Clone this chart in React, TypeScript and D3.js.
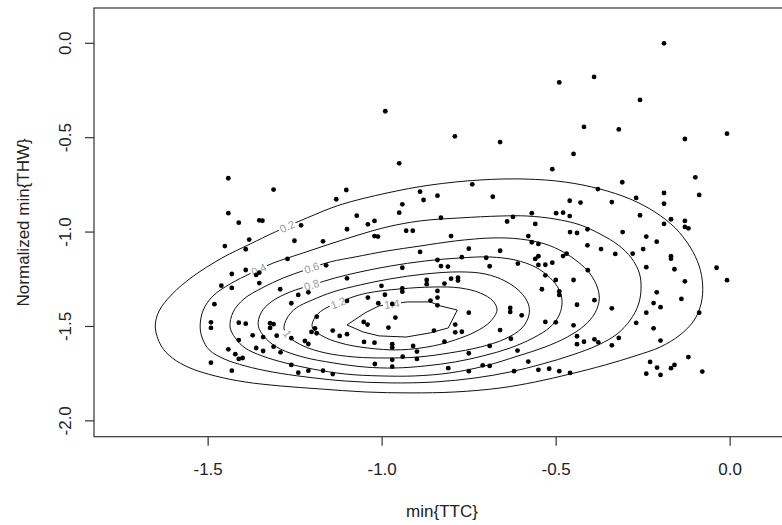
import React, { useEffect, useRef } from 'react';
import * as d3 from 'd3';

// min{TTC} of each event (x)
const ttc = [
  -0.991, -0.791, -0.661, -0.951, -0.190, -0.491, -0.391, -0.259, -0.420, -0.320,
  -0.130, -0.009, -0.450, -0.511, -0.100, -0.310, -0.089, -0.380, -0.190, -0.461,
  -0.430, -0.340, -0.270, -0.190, -0.570, -0.500, -0.480, -0.461, -0.560, -0.259,
  -0.170, -0.130, -0.190, -0.130, -0.120, -0.460, -0.440, -0.410, -0.309, -0.241,
  -0.580, -0.570, -0.551, -0.410, -0.371, -0.330, -0.280, -0.250, -0.211, -0.170,
  -0.170, -0.470, -0.480, -0.551, -0.560, -0.551, -0.531, -0.511, -0.241, -0.160,
  -0.039, -0.009, -0.130, -0.531, -0.501, -0.450, -0.409, -0.541, -0.491, -0.491,
  -0.211, -0.140, -0.440, -0.390, -0.220, -0.200, -0.340, -0.241, -0.089, -0.599,
  -0.531, -0.501, -0.450, -0.270, -0.220, -0.440, -0.440, -0.420, -0.390, -0.379,
  -0.320, -0.340, -0.200, -0.580, -0.551, -0.520, -0.491, -0.460, -0.230, -0.120,
  -0.210, -0.241, -0.200, -0.170, -0.160, -0.080, -0.741, -0.682, -0.641, -0.624,
  -0.751, -0.661, -0.771, -0.701, -0.610, -0.691, -0.751, -0.632, -0.632, -0.771,
  -0.661, -0.630, -0.751, -0.691, -0.611, -0.711, -0.691, -0.751, -0.621, -1.103,
  -1.132, -0.891, -0.841, -0.881, -0.942, -0.951, -1.073, -1.041, -1.022, -1.101,
  -1.022, -1.012, -0.931, -0.912, -0.831, -0.802, -1.170, -0.891, -0.841, -0.831,
  -0.811, -1.161, -0.942, -1.101, -0.872, -0.872, -0.802, -0.782, -0.782, -0.821,
  -1.002, -0.942, -0.942, -0.841, -0.992, -0.861, -0.841, -0.841, -1.041, -1.101,
  -0.971, -1.011, -0.962, -1.053, -1.042, -0.982, -1.142, -1.122, -1.101, -0.851,
  -0.790, -0.790, -1.052, -1.022, -0.971, -0.971, -0.911, -0.900, -0.821, -0.941,
  -0.971, -0.900, -1.021, -0.971, -0.810, -1.170, -1.142, -1.442, -1.312, -1.442,
  -1.412, -1.353, -1.344, -1.233, -1.382, -1.452, -1.392, -1.252, -1.272, -1.432,
  -1.392, -1.353, -1.362, -1.462, -1.432, -1.353, -1.293, -1.482, -1.241, -1.212,
  -1.261, -1.492, -1.492, -1.412, -1.392, -1.322, -1.312, -1.322, -1.372, -1.342,
  -1.303, -1.412, -1.188, -1.193, -1.203, -1.188, -1.261, -1.222, -1.212, -1.362,
  -1.342, -1.312, -1.292, -1.442, -1.422, -1.412, -1.401, -1.492, -1.432, -1.261,
  -1.241, -1.212,
];

// normalized min{THW} of each event (y)
const thw = [
  -0.360, -0.493, -0.523, -0.636, 0.000, -0.207, -0.178, -0.300, -0.443, -0.456,
  -0.507, -0.479, -0.586, -0.667, -0.710, -0.736, -0.803, -0.772, -0.793, -0.834,
  -0.844, -0.841, -0.819, -0.850, -0.900, -0.900, -0.897, -0.915, -0.957, -0.911,
  -0.932, -0.941, -0.957, -0.973, -0.980, -1.000, -1.005, -0.985, -1.000, -1.024,
  -1.021, -1.054, -1.063, -1.070, -1.090, -1.116, -1.114, -1.090, -1.051, -1.128,
  -1.141, -1.114, -1.127, -1.128, -1.142, -1.174, -1.173, -1.162, -1.186, -1.197,
  -1.189, -1.255, -1.261, -1.229, -1.254, -1.254, -1.202, -1.303, -1.314, -1.333,
  -1.319, -1.354, -1.385, -1.361, -1.376, -1.398, -1.404, -1.427, -1.427, -1.441,
  -1.476, -1.478, -1.494, -1.481, -1.510, -1.552, -1.594, -1.581, -1.568, -1.584,
  -1.561, -1.600, -1.575, -1.686, -1.730, -1.724, -1.737, -1.746, -1.688, -1.662,
  -1.718, -1.750, -1.757, -1.721, -1.704, -1.739, -0.747, -0.813, -0.944, -0.920,
  -1.088, -1.099, -1.133, -1.136, -1.167, -1.181, -1.427, -1.402, -1.423, -1.528,
  -1.519, -1.565, -1.642, -1.603, -1.628, -1.706, -1.709, -1.737, -1.737, -0.777,
  -0.826, -0.786, -0.807, -0.830, -0.853, -0.897, -0.913, -0.959, -0.941, -0.985,
  -1.021, -1.024, -0.993, -0.993, -0.924, -1.021, -1.049, -1.105, -1.148, -1.180,
  -1.183, -1.176, -1.189, -1.245, -1.254, -1.276, -1.247, -1.242, -1.257, -1.273,
  -1.285, -1.298, -1.316, -1.312, -1.332, -1.363, -1.347, -1.388, -1.347, -1.365,
  -1.381, -1.377, -1.453, -1.476, -1.490, -1.506, -1.522, -1.550, -1.541, -1.522,
  -1.531, -1.490, -1.582, -1.586, -1.594, -1.612, -1.603, -1.633, -1.581, -1.660,
  -1.677, -1.672, -1.699, -1.713, -1.721, -1.734, -1.752, -0.715, -0.775, -0.900,
  -0.950, -0.938, -0.940, -0.964, -1.040, -1.074, -1.091, -1.046, -1.142, -1.222,
  -1.201, -1.215, -1.227, -1.284, -1.296, -1.270, -1.303, -1.382, -1.333, -1.319,
  -1.377, -1.478, -1.508, -1.480, -1.485, -1.483, -1.488, -1.508, -1.547, -1.556,
  -1.549, -1.572, -1.448, -1.510, -1.529, -1.536, -1.562, -1.577, -1.593, -1.614,
  -1.630, -1.607, -1.637, -1.621, -1.647, -1.672, -1.667, -1.692, -1.734, -1.704,
  -1.745, -1.734,
];

// density contour rings, [min{TTC}, min{THW}]
const contour02 = [
  [-1.652, -1.503], [-1.641, -1.418], [-1.603, -1.328], [-1.546, -1.238], [-1.460, -1.137],
  [-1.379, -1.063], [-1.307, -0.999], [-1.216, -0.925], [-1.121, -0.856], [-0.986, -0.793],
  [-0.862, -0.751], [-0.718, -0.724], [-0.589, -0.719], [-0.474, -0.735], [-0.374, -0.772],
  [-0.287, -0.825], [-0.216, -0.894], [-0.158, -0.978], [-0.115, -1.079], [-0.089, -1.180],
  [-0.079, -1.280], [-0.083, -1.376], [-0.103, -1.466], [-0.144, -1.545], [-0.201, -1.609],
  [-0.273, -1.656], [-0.359, -1.704], [-0.460, -1.752], [-0.560, -1.794], [-0.661, -1.826],
  [-0.790, -1.847], [-0.920, -1.852], [-1.049, -1.847], [-1.178, -1.831], [-1.293, -1.815],
  [-1.394, -1.794], [-1.480, -1.762], [-1.552, -1.720], [-1.603, -1.667], [-1.635, -1.603],
];
const contour04 = [
  [-1.523, -1.497], [-1.514, -1.413], [-1.486, -1.338], [-1.437, -1.275], [-1.376, -1.217],
  [-1.313, -1.164], [-1.236, -1.116], [-1.158, -1.068], [-1.078, -1.021], [-0.986, -0.973],
  [-0.891, -0.941], [-0.776, -0.925], [-0.661, -0.915], [-0.583, -0.915], [-0.503, -0.931],
  [-0.431, -0.962], [-0.374, -1.010], [-0.322, -1.068], [-0.284, -1.137], [-0.261, -1.217],
  [-0.256, -1.301], [-0.264, -1.386], [-0.287, -1.466], [-0.325, -1.540], [-0.379, -1.598],
  [-0.454, -1.651], [-0.540, -1.699], [-0.632, -1.741], [-0.733, -1.773], [-0.848, -1.794],
  [-0.977, -1.799], [-1.106, -1.789], [-1.221, -1.767], [-1.316, -1.741], [-1.394, -1.709],
  [-1.454, -1.672], [-1.497, -1.624], [-1.517, -1.561],
];
const contour06 = [
  [-1.437, -1.503], [-1.428, -1.423], [-1.397, -1.354], [-1.345, -1.296], [-1.284, -1.243],
  [-1.221, -1.201], [-1.149, -1.158], [-1.078, -1.132], [-0.986, -1.100], [-0.891, -1.074],
  [-0.790, -1.047], [-0.681, -1.031], [-0.603, -1.037], [-0.532, -1.063], [-0.480, -1.105],
  [-0.437, -1.158], [-0.402, -1.222], [-0.382, -1.291], [-0.376, -1.354], [-0.388, -1.428],
  [-0.420, -1.497], [-0.468, -1.556], [-0.532, -1.609], [-0.609, -1.656], [-0.704, -1.709],
  [-0.805, -1.746], [-0.905, -1.762], [-1.006, -1.762], [-1.106, -1.752], [-1.201, -1.725],
  [-1.279, -1.693], [-1.345, -1.656], [-1.394, -1.614], [-1.422, -1.561],
];
const contour08 = [
  [-1.356, -1.497], [-1.348, -1.428], [-1.319, -1.370], [-1.264, -1.317], [-1.201, -1.280],
  [-1.135, -1.243], [-1.063, -1.211], [-0.977, -1.180], [-0.876, -1.153], [-0.776, -1.137],
  [-0.690, -1.132], [-0.618, -1.148], [-0.560, -1.185], [-0.517, -1.243], [-0.491, -1.307],
  [-0.483, -1.370], [-0.491, -1.439], [-0.517, -1.503], [-0.566, -1.561], [-0.632, -1.614],
  [-0.710, -1.656], [-0.790, -1.688], [-0.876, -1.709], [-0.963, -1.720], [-1.049, -1.715],
  [-1.141, -1.693], [-1.227, -1.662], [-1.293, -1.619], [-1.333, -1.566],
];
const contour10 = [
  [-1.282, -1.513], [-1.273, -1.455], [-1.247, -1.402], [-1.201, -1.360], [-1.141, -1.317],
  [-1.063, -1.280], [-0.977, -1.248], [-0.876, -1.222], [-0.776, -1.211], [-0.704, -1.222],
  [-0.647, -1.259], [-0.603, -1.317], [-0.580, -1.381], [-0.578, -1.439], [-0.598, -1.508],
  [-0.647, -1.566], [-0.718, -1.609], [-0.805, -1.640], [-0.897, -1.662], [-0.991, -1.667],
  [-1.078, -1.662], [-1.164, -1.640], [-1.227, -1.603], [-1.264, -1.561],
];
const contour12 = [
  [-1.201, -1.503], [-1.190, -1.444], [-1.161, -1.402], [-1.126, -1.376], [-1.092, -1.349],
  [-1.043, -1.323], [-0.948, -1.301], [-0.853, -1.291], [-0.776, -1.296], [-0.718, -1.323],
  [-0.681, -1.366], [-0.670, -1.413], [-0.690, -1.476], [-0.733, -1.529], [-0.790, -1.571],
  [-0.853, -1.603], [-0.948, -1.624], [-1.043, -1.614], [-1.121, -1.587], [-1.172, -1.550],
];
const contour14 = [
  [-1.101, -1.492], [-1.049, -1.428], [-1.009, -1.391], [-0.928, -1.370], [-0.862, -1.370],
  [-0.833, -1.391], [-0.784, -1.413], [-0.810, -1.508], [-0.862, -1.534], [-0.931, -1.556],
  [-1.009, -1.550], [-1.055, -1.529],
];

const contourRings = [contour02, contour04, contour06, contour08, contour10, contour12, contour14];
const levelLabels = ['0.2', '0.4', '0.6', '0.8', '1', '1.2', '1.4'];
const xTicks = [-1.5, -1.0, -0.5, 0.0];
const yTicks = [0.0, -0.5, -1.0, -1.5, -2.0];

// where each contour label sits (data units)
const labelSpots = [
  [-1.274, -0.966], [-1.356, -1.192], [-1.202, -1.192], [-1.202, -1.285],
  [-1.273, -1.540], [-1.126, -1.377], [-0.972, -1.381],
];

const W = 782;
const H = 525;
const plot = { left: 94, right: 790, top: 8, bottom: 436.7 };
const font = 'Liberation Sans, Arial, Helvetica, sans-serif';

const App: React.FC = () => {
  const svgRef = useRef<SVGSVGElement>(null);

  useEffect(() => {
    if (!svgRef.current) return;
    const svg = d3.select(svgRef.current);
    svg.selectAll('*').remove();

    const x = d3.scaleLinear().domain([-1.828, 0.172]).range([plot.left, plot.right]);
    const y = d3.scaleLinear().domain([-2.084, 0.187]).range([plot.bottom, plot.top]);

    const g = svg.append('g');

    // contour lines
    contourRings.forEach((ring, li) => {
      const line = d3.line<number[]>()
        .x(d => x(d[0]))
        .y(d => y(d[1]))
        .curve(li === contourRings.length - 1 ? d3.curveLinearClosed : d3.curveCatmullRomClosed.alpha(0.5));
      g.append('path')
        .attr('d', line(ring))
        .attr('fill', 'none')
        .attr('stroke', '#111')
        .attr('stroke-width', 1);
    });

    // contour labels, set along the nearest segment
    contourRings.forEach((ring, li) => {
      const pts = ring.map(d => [x(d[0]), y(d[1])]);
      const tx = x(labelSpots[li][0]);
      const ty = y(labelSpots[li][1]);
      let best = { d: Infinity, px: 0, py: 0, ang: 0 };
      for (let k = 0; k < pts.length; k++) {
        const [ax, ay] = pts[k];
        const [bx, by] = pts[(k + 1) % pts.length];
        const dx = bx - ax, dy = by - ay;
        const len2 = dx * dx + dy * dy || 1;
        const t = Math.max(0, Math.min(1, ((tx - ax) * dx + (ty - ay) * dy) / len2));
        const px = ax + t * dx, py = ay + t * dy;
        const d = Math.hypot(px - tx, py - ty);
        if (d < best.d) {
          let ang = (Math.atan2(dy, dx) * 180) / Math.PI;
          if (ang > 90) ang -= 180;
          if (ang < -90) ang += 180;
          best = { d, px, py, ang };
        }
      }
      const lg = g.append('g').attr('transform', `translate(${best.px},${best.py}) rotate(${best.ang})`);
      const rect = lg.append('rect').attr('fill', '#fff');
      const txt = lg.append('text')
        .attr('text-anchor', 'middle')
        .attr('dy', '0.35em')
        .attr('font-family', font)
        .attr('font-size', 11)
        .attr('fill', '#9a9a9a')
        .text(levelLabels[li]);
      const w = (txt.node() as SVGTextElement).getComputedTextLength();
      rect.attr('x', -w / 2 - 1.5).attr('y', -6).attr('width', w + 3).attr('height', 12);
    });

    // points
    g.selectAll('circle.pt')
      .data(ttc)
      .enter()
      .append('circle')
      .attr('class', 'pt')
      .attr('cx', d => x(d))
      .attr('cy', (_, i) => y(thw[i]))
      .attr('r', 2.4)
      .attr('fill', '#000');

    // frame
    svg.append('rect')
      .attr('x', plot.left)
      .attr('y', plot.top)
      .attr('width', plot.right - plot.left)
      .attr('height', plot.bottom - plot.top)
      .attr('fill', 'none')
      .attr('stroke', '#333')
      .attr('stroke-width', 1.2);

    // x axis
    xTicks.forEach(v => {
      svg.append('line')
        .attr('x1', x(v)).attr('x2', x(v))
        .attr('y1', plot.bottom).attr('y2', plot.bottom + 9)
        .attr('stroke', '#333').attr('stroke-width', 1.2);
      svg.append('text')
        .attr('x', x(v)).attr('y', 475)
        .attr('text-anchor', 'middle')
        .attr('font-family', font).attr('font-size', 17).attr('fill', '#222')
        .text(d3.format('.1f')(v).replace('−', '-'));
    });

    // y axis
    yTicks.forEach(v => {
      svg.append('line')
        .attr('x1', plot.left - 9).attr('x2', plot.left)
        .attr('y1', y(v)).attr('y2', y(v))
        .attr('stroke', '#333').attr('stroke-width', 1.2);
      svg.append('text')
        .attr('transform', `translate(70.5,${y(v)}) rotate(-90)`)
        .attr('text-anchor', 'middle')
        .attr('font-family', font).attr('font-size', 17).attr('fill', '#222')
        .text(d3.format('.1f')(v).replace('−', '-'));
    });

    svg.append('text')
      .attr('x', 442).attr('y', 517)
      .attr('text-anchor', 'middle')
      .attr('font-family', font).attr('font-size', 17).attr('fill', '#222')
      .text('min{TTC}');

    svg.append('text')
      .attr('transform', `translate(29,${(plot.top + plot.bottom) / 2}) rotate(-90)`)
      .attr('text-anchor', 'middle')
      .attr('font-family', font).attr('font-size', 17).attr('fill', '#222')
      .text('Normalized min{THW}');
  }, []);

  return (
    <svg
      ref={svgRef}
      width={W}
      height={H}
      style={{ position: 'absolute', left: 0, top: 0, background: '#fff' }}
    />
  );
};

export default App;
